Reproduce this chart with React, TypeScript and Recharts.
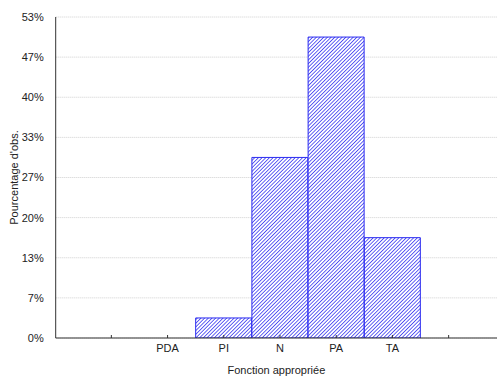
import { ComposedChart, Bar, XAxis, YAxis, CartesianGrid, Label } from 'recharts';

const categories = ['', 'PDA', 'PI', 'N', 'PA', 'TA', ''];
const groups = ['PDA', 'PI', 'N', 'PA', 'TA'];
const percentages = [0, 3.33, 30, 50, 16.67];
const yTicks = [0, 6.667, 13.333, 20, 26.667, 33.333, 40, 46.667, 53.333];
const xTicks = [0, 1, 2, 3, 4, 5, 6];

const data = groups.map((g, i) => ({ pos: categories.indexOf(g), label: g, pct: percentages[i] }));

const font = '"Liberation Sans", Arial, sans-serif';

function XTick({ x, y, payload }: any) {
  return (
    <text x={x} y={y + 15} textAnchor="middle" fontSize={11} fontFamily={font} fill="#222">
      {categories[payload.value]}
    </text>
  );
}

export default function App() {
  return (
    <div style={{ position: 'absolute', left: 0, top: 0, background: '#fff' }}>
      <ComposedChart width={498} height={376} data={data}
        margin={{ top: 17, right: 1, bottom: 0, left: 0 }}>
        <defs>
          <pattern id="hatch" width="2.6" height="2.6" patternUnits="userSpaceOnUse" patternTransform="rotate(45)">
            <rect width="2.6" height="2.6" fill="#ffffff" />
            <line x1="0" y1="0" x2="0" y2="2.6" stroke="#2f2ff0" strokeWidth="1.5" />
          </pattern>
        </defs>
        <CartesianGrid vertical={false} stroke="#cfcfcf" strokeDasharray="1 1" />
        <XAxis xAxisId="b" dataKey="pos" type="number" domain={[-0.99, 6.86]} ticks={xTicks}
          allowDataOverflow interval={0} height={38} tickSize={-3} stroke="#333"
          tick={<XTick />}>
          <Label value="Fonction appropriée" position="insideBottom" offset={2}
            style={{ fontSize: 11, fontFamily: font, fill: '#222' }} />
        </XAxis>
        <XAxis xAxisId="t" orientation="top" dataKey="pos" type="number" domain={[-0.99, 6.86]}
          ticks={xTicks} allowDataOverflow height={0} tickSize={-3} stroke="#333" tick={false} />
        <YAxis type="number" domain={[0, 53.333]} ticks={yTicks} width={55.7} tickLine={false}
          stroke="#333" allowDataOverflow tickMargin={6}
          tickFormatter={(v: number) => `${Math.round(v)}%`}
          tick={{ fontSize: 11, fontFamily: font, fill: '#222' }}>
          <Label value="Pourcentage d'obs." angle={-90} position="insideLeft" offset={14}
            style={{ fontSize: 11, fontFamily: font, fill: '#222', textAnchor: 'middle' }} />
        </YAxis>
        <Bar xAxisId="b" dataKey="pct" barSize={56} fill="url(#hatch)" stroke="#2a2af0"
          strokeWidth={1} isAnimationActive={false} />
      </ComposedChart>
    </div>
  );
}
